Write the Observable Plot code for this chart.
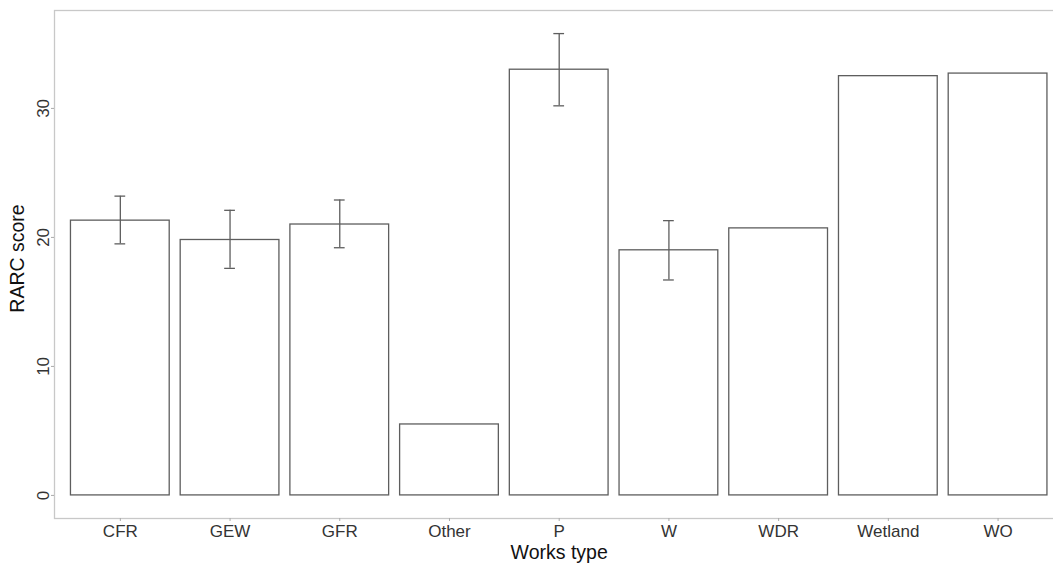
<!DOCTYPE html>
<html>
<head>
<meta charset="utf-8">
<script src="https://cdn.jsdelivr.net/npm/d3@7"></script>
<script src="https://cdn.jsdelivr.net/npm/@observablehq/plot@0.6"></script>
<style>
  html, body { margin: 0; padding: 0; background: #fff; }
  #chart svg { display: block; }
</style>
</head>
<body>
<div id="chart"></div>
<script>
// Mean RARC score per works type, with error bars where available
const worksTypes = ["CFR", "GEW", "GFR", "Other", "P", "W", "WDR", "Wetland", "WO"];
const rarcMean  = [21.3, 19.8, 21.0, 5.5, 33.0, 19.0, 20.7, 32.5, 32.7];
const rarcLower = [19.5, 17.6, 19.2, null, 30.2, 16.7, null, null, null];
const rarcUpper = [23.2, 22.1, 22.9, null, 35.8, 21.3, null, null, null];
const yTicks = [0, 10, 20, 30];

const rows = worksTypes.map((type, i) => ({
  type,
  mean: rarcMean[i],
  lo: rarcLower[i],
  hi: rarcUpper[i]
}));
const errRows = rows.filter(d => d.lo != null && d.hi != null);

const lineColor = "#5e5e5e";
const panelColor = "#c8c8c8";
const viewWidth = 1053;

// The panel is laid out a little wider than the visible figure;
// the viewBox below crops its right edge away.
const plot = Plot.plot({
  width: 1064,
  height: 570,
  marginLeft: 54,
  marginRight: 0.6,
  marginTop: 10,
  marginBottom: 52,
  style: { fontFamily: "'Liberation Sans', Arial, sans-serif", fontSize: "17px", color: "#333", background: "#fff", overflow: "hidden" },
  x: { type: "band", domain: worksTypes, paddingInner: 0.1, paddingOuter: 0.15, round: false },
  y: { domain: [-1.79, 37.59] },
  marks: [
    Plot.barY(rows, { x: "type", y1: 0, y2: "mean", fill: "#fff", stroke: lineColor, strokeWidth: 1.3 }),
    Plot.ruleX(errRows, { x: "type", y1: "lo", y2: "hi", stroke: lineColor, strokeWidth: 1.3 }),
    Plot.tickY(errRows, { x: "type", y: "lo", stroke: lineColor, strokeWidth: 1.3, insetLeft: 44, insetRight: 44 }),
    Plot.tickY(errRows, { x: "type", y: "hi", stroke: lineColor, strokeWidth: 1.3, insetLeft: 44, insetRight: 44 }),
    Plot.frame({ stroke: panelColor, strokeWidth: 1.3 }),
    Plot.axisY({
      ticks: yTicks, tickSize: 3, stroke: "#aaa", tickPadding: 3,
      tickRotate: -90, fontSize: 17, fill: "#333",
      label: "RARC score", labelAnchor: "center", labelOffset: 44, labelArrow: false
    }),
    Plot.axisX({
      tickSize: 3, stroke: "#aaa", tickPadding: 3, fontSize: 17, fill: "#333",
      label: "Works type", labelAnchor: "center", labelOffset: 40, labelArrow: false
    })
  ]
});

// Crop to the visible figure width without rescaling
plot.setAttribute("width", viewWidth);
plot.setAttribute("viewBox", `0 0 ${viewWidth} 570`);

// Larger, darker axis titles; x title centred under the visible area
plot.querySelectorAll("g[aria-label='y-axis label'] text, g[aria-label='x-axis label'] text").forEach(t => {
  t.setAttribute("font-size", "19.5");
  t.setAttribute("fill", "#111");
});
plot.querySelectorAll("g[aria-label='y-axis label'] text").forEach(t => t.setAttribute("dx", "6"));

document.getElementById("chart").appendChild(plot);
</script>
</body>
</html>
